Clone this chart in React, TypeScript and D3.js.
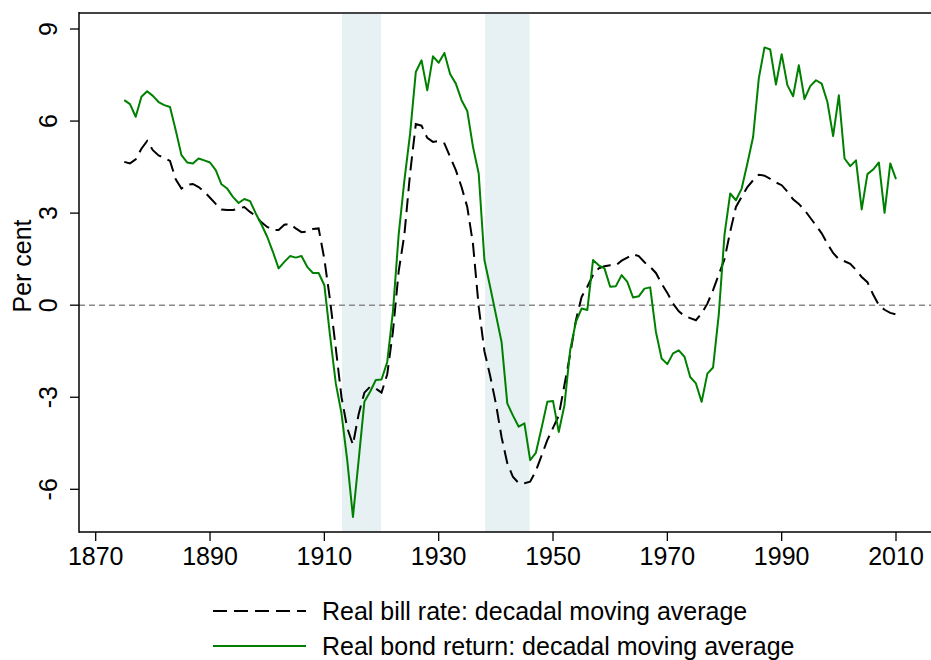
import React from "react";
import * as d3 from "d3";

const FIRST_YEAR = 1875;

const billRate = [
  4.67, 4.62, 4.75, 5.1, 5.35, 5.05, 4.88, 4.8, 4.7, 4.1,
  3.8, 3.92, 3.95, 3.85, 3.7, 3.5, 3.3, 3.12, 3.1, 3.1,
  3.15, 3.2, 3.04, 2.9, 2.7, 2.55, 2.45, 2.45, 2.62, 2.65,
  2.5, 2.38, 2.4, 2.48, 2.5, 1.5, 0.16, -1.4, -3.0, -4.0,
  -4.55, -3.55, -2.85, -2.66, -2.72, -2.85, -2.25, -0.85, 1.1, 2.3,
  4.3, 5.9, 5.85, 5.45, 5.32, 5.35, 5.27, 4.83, 4.4, 3.85,
  3.2, 2.0, -0.05, -1.5, -2.3, -3.2, -4.3, -5.15, -5.6, -5.8,
  -5.8, -5.75, -5.4, -4.9, -4.4, -4.0, -3.6, -2.6, -1.6, -0.5,
  0.27, 0.6, 0.98, 1.2, 1.27, 1.3, 1.3, 1.45, 1.55, 1.66,
  1.6, 1.4, 1.25, 1.05, 0.7, 0.4, 0.05, -0.2, -0.35, -0.42,
  -0.49, -0.27, 0.05, 0.49, 1.0, 1.5, 2.4, 3.2, 3.53, 3.85,
  4.07, 4.25, 4.22, 4.12, 4.0, 3.91, 3.7, 3.45, 3.3, 3.1,
  2.85, 2.6, 2.34, 2.0, 1.7, 1.5, 1.43, 1.35, 1.15, 0.92,
  0.75, 0.35, 0.0, -0.15, -0.25, -0.3,
];

const bondReturn = [
  6.68, 6.55, 6.14, 6.79, 6.97, 6.82, 6.62, 6.52, 6.46, 5.7,
  4.89, 4.65, 4.62, 4.78, 4.72, 4.65, 4.4, 3.94, 3.8, 3.53,
  3.33, 3.46, 3.39, 2.99, 2.63, 2.23, 1.74, 1.2, 1.41, 1.6,
  1.55, 1.6, 1.25, 1.05, 1.05, 0.65, -1.0, -2.55, -3.53, -5.05,
  -6.9, -5.05, -3.15, -2.82, -2.44, -2.42, -1.85, -0.2, 2.3, 4.07,
  5.59, 7.6, 7.98, 7.0, 8.11, 7.9, 8.22, 7.53, 7.22, 6.68,
  6.33, 5.16, 4.29, 1.47, 0.6, -0.3, -1.2, -3.2, -3.6, -3.96,
  -3.85, -5.05, -4.81, -4.0, -3.15, -3.12, -4.13, -3.26, -1.47, -0.54,
  -0.11, -0.16, 1.47, 1.3, 1.2, 0.6, 0.62, 0.98, 0.76, 0.25,
  0.29, 0.54, 0.58, -0.87, -1.74, -1.92, -1.57, -1.47, -1.68, -2.34,
  -2.55, -3.15, -2.23, -2.03, -0.3, 2.3, 3.64, 3.42, 3.8, 4.62,
  5.48, 7.39, 8.4, 8.33, 7.19, 8.18, 7.17, 6.81, 7.82, 6.72,
  7.14, 7.33, 7.22, 6.62, 5.51, 6.84, 4.78, 4.53, 4.72, 3.12,
  4.27, 4.42, 4.65, 3.01, 4.62, 4.11,
];

const xTicks = [1870, 1890, 1910, 1930, 1950, 1970, 1990, 2010];
const yTicks = [-6, -3, 0, 3, 6, 9];
const warStart = [1913.1, 1938.1];
const warEnd = [1919.9, 1945.9];
const legendLabels = [
  "Real bill rate: decadal moving average",
  "Real bond return: decadal moving average",
];
const yLabel = "Per cent";

const W = 931;
const H = 660;
const plotLeft = 79;
const plotRight = 931;
const plotTop = 13;
const plotBottom = 532;
const FONT = "'Liberation Sans', Arial, Helvetica, sans-serif";
const GREEN = "#008000";

export default function App() {
  const x = d3.scaleLinear().domain([1870, 2010]).range([95.7, 896]);
  const y = d3.scaleLinear().domain([-6, 9]).range([489.3, 29]);

  const bill = billRate.map((v, i) => [FIRST_YEAR + i, v] as [number, number]);
  const bond = bondReturn.map((v, i) => [FIRST_YEAR + i, v] as [number, number]);

  const line = d3
    .line<[number, number]>()
    .x((d) => x(d[0]))
    .y((d) => y(d[1]));

  return (
    <svg
      width={W}
      height={H}
      style={{ position: "absolute", left: 0, top: 0, background: "#fff" }}
      fontFamily={FONT}
    >
      <rect x={0} y={0} width={W} height={H} fill="#fff" />
      {warStart.map((s, i) => (
        <rect
          key={i}
          x={x(s)}
          y={plotTop}
          width={x(warEnd[i]) - x(s)}
          height={plotBottom - plotTop}
          fill="#e7f0f2"
        />
      ))}
      <line
        x1={plotLeft}
        x2={plotRight}
        y1={y(0)}
        y2={y(0)}
        stroke="#8a8a8a"
        strokeWidth={1.6}
        strokeDasharray="6,4"
      />
      <path
        d={line(bill) || ""}
        fill="none"
        stroke="#000"
        strokeWidth={2}
        strokeDasharray="14,7"
      />
      <path d={line(bond) || ""} fill="none" stroke={GREEN} strokeWidth={2} strokeLinejoin="round" />

      {/* frame */}
      <line x1={plotLeft} x2={plotRight} y1={plotTop} y2={plotTop} stroke="#444" strokeWidth={1.8} />
      <line x1={plotLeft} x2={plotLeft} y1={plotTop - 0.9} y2={plotBottom + 0.7} stroke="#000" strokeWidth={1.5} />
      <line x1={plotLeft} x2={plotRight} y1={plotBottom} y2={plotBottom} stroke="#000" strokeWidth={1.5} />

      {xTicks.map((t) => (
        <g key={t}>
          <line x1={x(t)} x2={x(t)} y1={plotBottom} y2={plotBottom + 9} stroke="#000" strokeWidth={1.3} />
          <text x={x(t)} y={565} textAnchor="middle" fontSize={25} fill="#000">
            {t}
          </text>
        </g>
      ))}
      {yTicks.map((t) => (
        <g key={t}>
          <line x1={plotLeft - 9} x2={plotLeft} y1={y(t)} y2={y(t)} stroke="#000" strokeWidth={1.3} />
          <text
            transform={`translate(57,${y(t)}) rotate(-90)`}
            textAnchor="middle"
            fontSize={25}
            fill="#000"
          >
            {t}
          </text>
        </g>
      ))}
      <text transform={`translate(31,266) rotate(-90)`} textAnchor="middle" fontSize={25} fill="#000">
        {yLabel}
      </text>

      {/* legend */}
      <line x1={213} x2={306} y1={611} y2={611} stroke="#000" strokeWidth={2} strokeDasharray="14,7" />
      <text x={322} y={620} fontSize={25} fill="#000">
        {legendLabels[0]}
      </text>
      <line x1={213} x2={306} y1={646} y2={646} stroke={GREEN} strokeWidth={2} />
      <text x={322} y={655} fontSize={25} fill="#000">
        {legendLabels[1]}
      </text>
    </svg>
  );
}
